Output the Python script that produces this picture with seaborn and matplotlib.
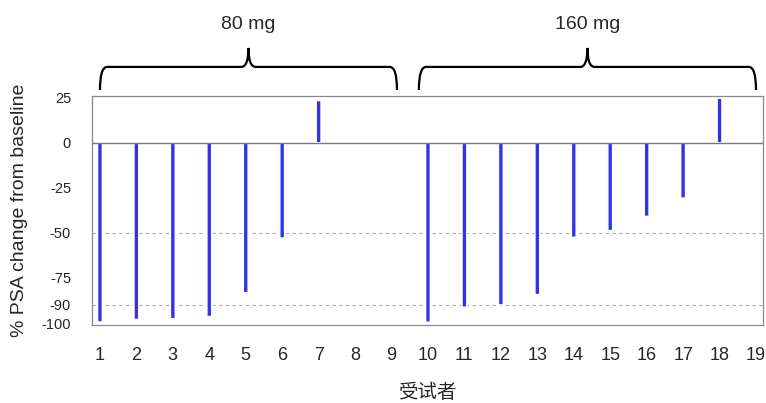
import numpy as np
import matplotlib
matplotlib.use("Agg")
import matplotlib.pyplot as plt
from matplotlib.path import Path
from matplotlib.patches import PathPatch
import seaborn as sns

# subject number and % PSA change from baseline
subjects = [1, 2, 3, 4, 5, 6, 7, 10, 11, 12, 13, 14, 15, 16, 17, 18]
psa_change = [-99.4, -98, -97.6, -96.4, -83.2, -52.8, 23.4,
              -99.5, -91.2, -89.9, -84.2, -52.4, -48.7, -40.8, -30.7, 24.7]
x_ticks = list(range(1, 20))
y_ticks = [25, 0, -25, -50, -75, -90, -100]
ref_lines = [-50, -90]
groups = [("80 mg", 1.0, 9.15), ("160 mg", 9.75, 19.0)]

sns.set_style("white")
plt.rcParams['font.family'] = ['Liberation Sans', 'Noto Sans CJK SC', 'DejaVu Sans']

fig = plt.figure(figsize=(7.66, 4.03), dpi=100)
ax = fig.add_axes([0.120, 0.194, 0.876, 0.568])

sns.barplot(x=subjects, y=psa_change, native_scale=True, width=0.13,
            color="#3333e6", saturation=1, ax=ax)
for p in ax.patches:
    p.set_snap(False)

for v in ref_lines:
    ax.axhline(v, color="#aaaaaa", lw=0.8, ls=(0, (3, 3)), zorder=0)
ax.axhline(0, color="#777777", lw=1.0, zorder=3)

ax.set_xlim(0.78, 19.19)
ax.set_ylim(-101, 26)
ax.set_xticks(x_ticks)
ax.set_xticklabels([str(t) for t in x_ticks], fontsize=13)
ax.set_yticks(y_ticks)
ax.set_yticklabels([str(t) for t in y_ticks], fontsize=10.5)
ax.tick_params(axis="x", direction="out", length=5, width=0.8, color="#777777", pad=11)
ax.tick_params(axis="y", direction="out", length=3, width=0.8, color="#777777", pad=12)
for s in ax.spines.values():
    s.set_color("#888888")
    s.set_linewidth(0.9)

ax.set_xlabel("受试者", fontsize=14, labelpad=14)
ax.set_ylabel("% PSA change from baseline", fontsize=14, labelpad=10)

# curly brackets above the axes
trans = ax.get_xaxis_transform()
y_base = 1.0 + (96 - 90) / 229.0
y_bar = 1.0 + (96 - 67) / 229.0
y_peak = 1.0 + (96 - 48) / 229.0
for label, x0, x1 in groups:
    xm = (x0 + x1) / 2
    r = 0.2
    verts = [(x0, y_base), (x0, y_bar), (x0 + r, y_bar),
             (xm - r, y_bar), (xm, y_bar), (xm, y_peak),
             (xm, y_bar), (xm + r, y_bar),
             (x1 - r, y_bar), (x1, y_bar), (x1, y_base)]
    codes = [Path.MOVETO, Path.CURVE3, Path.CURVE3,
             Path.LINETO, Path.CURVE3, Path.CURVE3,
             Path.CURVE3, Path.CURVE3,
             Path.LINETO, Path.CURVE3, Path.CURVE3]
    ax.add_patch(PathPatch(Path(verts, codes), transform=trans, fill=False,
                           lw=1.6, color="black", clip_on=False))
    ax.text(xm, 1.0 + (96 - 25) / 229.0, label, transform=trans,
            ha="center", va="center", fontsize=14)

fig.savefig("out.png", dpi=100)
